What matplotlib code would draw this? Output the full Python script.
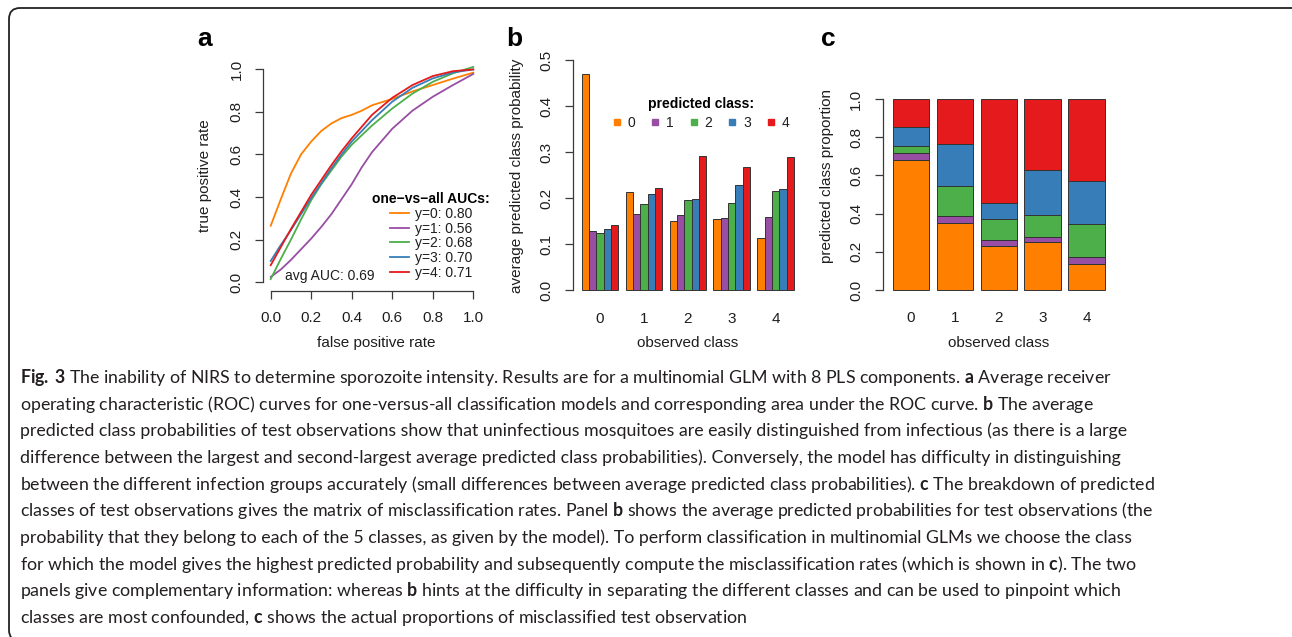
import numpy as np
import matplotlib
matplotlib.use('Agg')
import matplotlib.pyplot as plt
from matplotlib.lines import Line2D
from matplotlib.patches import FancyBboxPatch
from matplotlib.transforms import IdentityTransform

# ---- data ----
classes = ['0', '1', '2', '3', '4']
colors = ['#FF7F00', '#984EA3', '#4DAF4A', '#377EB8', '#E41A1C']

# panel a: average ROC curves (one-vs-all)
fpr = [0, 0.05, 0.1, 0.15, 0.2, 0.25, 0.3, 0.35, 0.4, 0.45, 0.5, 0.6, 0.7, 0.8, 0.9, 1.0]
tpr_y0 = [0.265, 0.39, 0.51, 0.60, 0.66, 0.71, 0.745, 0.77, 0.785, 0.805, 0.83, 0.86, 0.895, 0.925, 0.955, 0.983]
tpr_y1 = [0.025, 0.06, 0.105, 0.155, 0.205, 0.26, 0.32, 0.39, 0.46, 0.54, 0.61, 0.72, 0.805, 0.87, 0.925, 0.977]
tpr_y2 = [0.015, 0.11, 0.2, 0.295, 0.385, 0.46, 0.525, 0.59, 0.645, 0.69, 0.735, 0.815, 0.885, 0.94, 0.98, 1.01]
tpr_y3 = [0.10, 0.175, 0.245, 0.32, 0.395, 0.465, 0.535, 0.60, 0.66, 0.71, 0.76, 0.847, 0.912, 0.956, 0.984, 0.998]
tpr_y4 = [0.08, 0.165, 0.25, 0.33, 0.41, 0.48, 0.55, 0.615, 0.675, 0.73, 0.785, 0.865, 0.925, 0.967, 0.99, 0.998]
auc = [0.80, 0.56, 0.68, 0.70, 0.71]
avg_auc = 0.69

# panel b: average predicted class probability, rows = observed class
prob_obs0 = [0.470, 0.128, 0.124, 0.133, 0.141]
prob_obs1 = [0.213, 0.165, 0.187, 0.209, 0.222]
prob_obs2 = [0.151, 0.162, 0.196, 0.198, 0.292]
prob_obs3 = [0.155, 0.157, 0.189, 0.228, 0.268]
prob_obs4 = [0.113, 0.159, 0.215, 0.220, 0.289]

# panel c: predicted class proportion, rows = observed class
prop_obs0 = [0.680, 0.035, 0.041, 0.099, 0.145]
prop_obs1 = [0.349, 0.040, 0.157, 0.217, 0.237]
prop_obs2 = [0.230, 0.032, 0.108, 0.087, 0.543]
prop_obs3 = [0.250, 0.029, 0.112, 0.236, 0.373]
prop_obs4 = [0.134, 0.040, 0.171, 0.227, 0.428]

caption = [
    r"$\mathbf{Fig.\,3}$ The inability of NIRS to determine sporozoite intensity. Results are for a multinomial GLM with 8 PLS components. $\mathbf{a}$ Average receiver",
    r"operating characteristic (ROC) curves for one-versus-all classification models and corresponding area under the ROC curve. $\mathbf{b}$ The average",
    r"predicted class probabilities of test observations show that uninfectious mosquitoes are easily distinguished from infectious (as there is a large",
    r"difference between the largest and second-largest average predicted class probabilities). Conversely, the model has difficulty in distinguishing",
    r"between the different infection groups accurately (small differences between average predicted class probabilities). $\mathbf{c}$ The breakdown of predicted",
    r"classes of test observations gives the matrix of misclassification rates. Panel $\mathbf{b}$ shows the average predicted probabilities for test observations (the",
    r"probability that they belong to each of the 5 classes, as given by the model). To perform classification in multinomial GLMs we choose the class",
    r"for which the model gives the highest predicted probability and subsequently compute the misclassification rates (which is shown in $\mathbf{c}$). The two",
    r"panels give complementary information: whereas $\mathbf{b}$ hints at the difficulty in separating the different classes and can be used to pinpoint which",
    r"classes are most confounded, $\mathbf{c}$ shows the actual proportions of misclassified test observation",
]

# ---- style ----
plt.rcParams['font.family'] = ['Liberation Sans', 'DejaVu Sans']
plt.rcParams['mathtext.fontset'] = 'custom'
plt.rcParams['mathtext.rm'] = 'Lato'
plt.rcParams['mathtext.bf'] = 'Lato:bold'
txt = '#1e1e1e'
axc = '#3a3a3a'

W, H = 1292, 637
fig = plt.figure(figsize=(W / 100, H / 100), dpi=100)


def add_ax(l, t, r, b):
    return fig.add_axes([l / W, 1 - b / H, (r - l) / W, (b - t) / H])


def fx(x):
    return x / W


def fy(y):
    return 1 - y / H


def r_style(ax, left_bounds, bottom_bounds=None):
    for s in ['top', 'right']:
        ax.spines[s].set_visible(False)
    ax.spines['left'].set_bounds(*left_bounds)
    ax.spines['left'].set_color(axc)
    ax.spines['left'].set_linewidth(0.9)
    if bottom_bounds is None:
        ax.spines['bottom'].set_visible(False)
        ax.tick_params(axis='x', length=0, pad=9.5)
    else:
        ax.spines['bottom'].set_bounds(*bottom_bounds)
        ax.spines['bottom'].set_color(axc)
        ax.spines['bottom'].set_linewidth(0.9)
        ax.tick_params(axis='x', direction='out', length=5.8, width=0.9, color=axc, pad=9)
    ax.tick_params(axis='y', direction='out', length=5.8, width=0.9, color=axc, pad=8)
    ax.tick_params(labelsize=11, labelcolor=txt)
    plt.setp(ax.get_yticklabels(), rotation=90, va='center')
    ax.patch.set_visible(False)


# ---- panel a ----
ax1 = add_ax(262.6, 60.5, 481.4, 290.8)
tprs = [tpr_y0, tpr_y1, tpr_y2, tpr_y3, tpr_y4]
for i in range(5):
    ax1.plot(fpr, tprs[i], color=colors[i], lw=1.3, label='y=%s: %.2f' % (classes[i], auc[i]))
ax1.set_xlim(-0.04, 1.04)
ax1.set_ylim(-0.04, 1.04)
ax1.set_xticks(np.arange(0, 1.01, 0.2))
ax1.set_yticks(np.arange(0, 1.01, 0.2))
ax1.set_xticklabels(['%.1f' % v for v in np.arange(0, 1.01, 0.2)])
ax1.set_yticklabels(['%.1f' % v for v in np.arange(0, 1.01, 0.2)])
r_style(ax1, (0, 1), (0, 1))
leg = ax1.legend(loc='center', bbox_to_anchor=(fx(431), fy(236)), bbox_transform=fig.transFigure,
                 frameon=False, fontsize=10, title='one\u2212vs\u2212all AUCs:',
                 title_fontproperties={'weight': 'bold', 'size': 10},
                 handlelength=1.35, handletextpad=0.45, labelspacing=0.05, borderpad=0)
for t in leg.get_texts():
    t.set_color(txt)
fig.text(fx(330), fy(275.7), 'avg AUC: %.2f' % avg_auc, fontsize=10, color=txt, ha='center', va='center')
fig.text(fx(376.7), fy(343), 'false positive rate', fontsize=11, color=txt, ha='center', va='center')
fig.text(fx(205), fy(175.5), 'true positive rate', fontsize=11, color=txt, ha='center', va='center', rotation=90)
fig.text(fx(197), fy(45.5), 'a', fontsize=19, fontweight='bold', ha='left', va='baseline')

# ---- panel b ----
ax2 = add_ax(572.7, 50.8, 803.0, 299.2)
probs = [prob_obs0, prob_obs1, prob_obs2, prob_obs3, prob_obs4]
for g in range(5):
    for k in range(5):
        ax2.bar(g * 6 + 1 + k + 0.5, probs[g][k], width=1, color=colors[k],
                edgecolor='#333333', linewidth=0.7)
ax2.set_xlim(-0.23, 31.23)
ax2.set_ylim(-0.02, 0.52)
ax2.set_xticks([g * 6 + 3.5 for g in range(5)])
ax2.set_xticklabels(classes)
ax2.set_yticks(np.arange(0, 0.51, 0.1))
ax2.set_yticklabels(['%.1f' % v for v in np.arange(0, 0.51, 0.1)])
r_style(ax2, (0, 0.5))
handles = [Line2D([], [], ls='none', marker='s', ms=4.5, color=c) for c in colors]
leg2 = ax2.legend(handles, classes, loc='center', ncol=5, bbox_to_anchor=(fx(701), fy(113.5)),
                  bbox_transform=fig.transFigure, frameon=False, fontsize=10,
                  title='predicted class:', title_fontproperties={'weight': 'bold', 'size': 10},
                  handlelength=0.6, handletextpad=0.49, columnspacing=1.12, labelspacing=0.38,
                  borderpad=0)
for t in leg2.get_texts():
    t.set_color(txt)
fig.text(fx(687.9), fy(343), 'observed class', fontsize=11, color=txt, ha='center', va='center')
fig.text(fx(516.7), fy(175.5), 'average predicted class probability', fontsize=11, color=txt,
         ha='center', va='center', rotation=90)
fig.text(fx(506), fy(45.5), 'b', fontsize=19, fontweight='bold', ha='left', va='baseline')

# ---- panel c ----
ax3 = add_ax(882.5, 91.4, 1115.2, 297.6)
props = np.array([prop_obs0, prop_obs1, prop_obs2, prop_obs3, prop_obs4])
xc = [0.7 + 1.2 * g for g in range(5)]
bottom = np.zeros(5)
for k in range(5):
    ax3.bar(xc, props[:, k], width=1, bottom=bottom, color=colors[k],
            edgecolor='#333333', linewidth=0.7)
    bottom += props[:, k]
ax3.set_xlim(-0.079, 6.279)
ax3.set_ylim(-0.04, 1.04)
ax3.set_xticks(xc)
ax3.set_xticklabels(classes)
ax3.set_yticks(np.arange(0, 1.01, 0.2))
ax3.set_yticklabels(['%.1f' % v for v in np.arange(0, 1.01, 0.2)])
r_style(ax3, (0, 1))
fig.text(fx(998.9), fy(343), 'observed class', fontsize=11, color=txt, ha='center', va='center')
fig.text(fx(826.7), fy(176), 'predicted class proportion', fontsize=11, color=txt,
         ha='center', va='center', rotation=90)
fig.text(fx(821), fy(45.5), 'c', fontsize=19, fontweight='bold', ha='left', va='baseline')

# ---- caption ----
cap_texts = []
for i, line in enumerate(caption):
    cap_texts.append(fig.text(fx(20), fy(383 + 26.67 * i), line, fontsize=12, family='Lato',
                              color='#231f20', ha='left', va='baseline'))
fig.canvas.draw()
rend = fig.canvas.get_renderer()
w5 = cap_texts[4].get_window_extent(rend).width
size = 12 * (1150.7 - 20.7) / w5
for t in cap_texts:
    t.set_fontsize(size)

# rounded frame around figure + caption (runs off the right and bottom edges)
frame = FancyBboxPatch((9, -4), 1295, 633, boxstyle='round,pad=0,rounding_size=11',
                       transform=IdentityTransform(), fill=False, lw=1.3, ec='#222222',
                       clip_on=False)
fig.add_artist(frame)

fig.savefig('out.png', dpi=100)
